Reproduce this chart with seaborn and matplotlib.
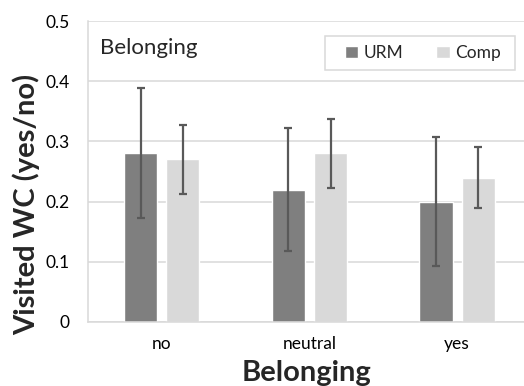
import pandas as pd
import matplotlib.pyplot as plt
from matplotlib.patches import Rectangle
import seaborn as sns

# values
categories = ["no", "neutral", "yes"]
groups = ["URM", "Comp"]
urm_mean = [0.28, 0.22, 0.20]
comp_mean = [0.27, 0.28, 0.24]
urm_err = [0.108, 0.102, 0.107]
comp_err = [0.057, 0.058, 0.051]
y_ticks = [0, 0.1, 0.2, 0.3, 0.4, 0.5]
y_tick_labels = ["0", "0.1", "0.2", "0.3", "0.4", "0.5"]


def build_frame():
    rows = []
    for i, cat in enumerate(categories):
        rows.append({"Belonging": cat, "group": "URM", "value": urm_mean[i], "err": urm_err[i]})
        rows.append({"Belonging": cat, "group": "Comp", "value": comp_mean[i], "err": comp_err[i]})
    return pd.DataFrame(rows)


def plot_chart(df, output_path):
    sns.set_style("white")
    plt.rcParams['font.family'] = ['Lato', 'DejaVu Sans']

    fig = plt.figure(figsize=(5.24, 3.86), dpi=100)
    ax = fig.add_axes([88 / 524, 64 / 386, 436 / 524, 301 / 386])

    ax = sns.barplot(
        data=df, x="Belonging", y="value", hue="group",
        order=categories, hue_order=groups,
        palette={"URM": "#7f7f7f", "Comp": "#d9d9d9"},
        width=0.57, gap=0.21, errorbar=None, saturation=1, ax=ax,
    )

    # error bars on top of the bars seaborn drew
    for container, g in zip(ax.containers, groups):
        sub = df[df["group"] == g].set_index("Belonging").loc[categories]
        xs = [p.get_x() + p.get_width() / 2 for p in container.patches]
        ax.errorbar(xs, sub["value"], yerr=sub["err"], fmt="none",
                    ecolor="#595959", elinewidth=1.6, capsize=3, capthick=1.6, zorder=3)

    ax.set_ylim(0, 0.5)
    ax.set_xlim(-0.5, 2.453)
    ax.set_yticks(y_ticks)
    ax.set_yticklabels(y_tick_labels)
    ax.yaxis.grid(True, color="#d9d9d9", linewidth=1.1)
    ax.set_axisbelow(True)
    ax.tick_params(axis="both", length=0, labelsize=12.5, colors="#000000")
    ax.tick_params(axis="y", pad=13)
    ax.tick_params(axis="x", pad=10)
    for side in ["top", "right"]:
        ax.spines[side].set_visible(False)
    for side in ["left", "bottom"]:
        ax.spines[side].set_color("#d9d9d9")
        ax.spines[side].set_linewidth(1.1)

    ax.set_ylabel("Visited WC (yes/no)", fontsize=21, fontweight="bold", labelpad=4)
    ax.yaxis.label.set_y(0.39)
    ax.set_xlabel("Belonging", fontsize=21, fontweight="bold", labelpad=6)
    ax.text(0.028, 0.91, "Belonging", transform=ax.transAxes, fontsize=16, va="center")

    # legend box, drawn under the legend entries
    ax.add_patch(Rectangle((325 / 524, 1 - 70 / 386), 190 / 524, 34 / 386,
                           transform=fig.transFigure, facecolor="white", clip_on=False,
                           edgecolor="#d9d9d9", linewidth=1.1, zorder=4))
    handles, labels = ax.get_legend_handles_labels()
    leg = ax.legend(handles, labels, loc="center",
                    bbox_to_anchor=(423 / 524, 1 - 53 / 386), bbox_transform=fig.transFigure,
                    ncol=2, frameon=False, fontsize=12.5,
                    handlelength=0.75, handleheight=0.75, handletextpad=0.35,
                    columnspacing=1.9, borderpad=0, borderaxespad=0)
    leg.set_zorder(6)

    fig.savefig(output_path, dpi=100)


def main():
    df = build_frame()
    plot_chart(df, "out.png")


if __name__ == '__main__':
    main()
